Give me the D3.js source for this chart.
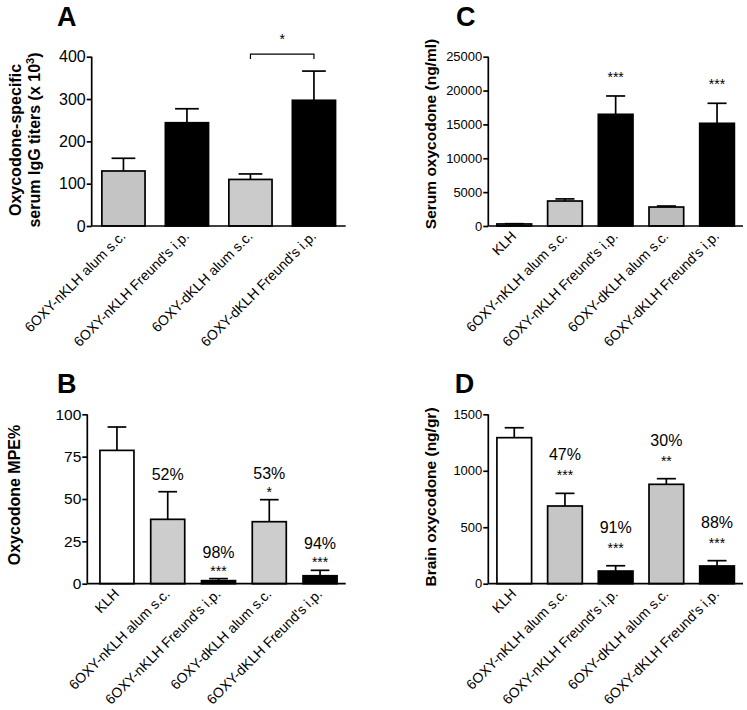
<!DOCTYPE html>
<html>
<head>
<meta charset="utf-8">
<script src="https://cdn.jsdelivr.net/npm/d3@7"></script>
<style>
  html, body { margin: 0; padding: 0; background: #fff; }
  svg { display: block; }
  text { font-family: Arial, "Liberation Sans", sans-serif; fill: #000; }
</style>
</head>
<body>
<svg id="chart" width="747" height="710"></svg>
<script>
// ---------- DATA ----------
const categoriesA = ["6OXY-nKLH alum s.c.", "6OXY-nKLH Freund's i.p.", "6OXY-dKLH alum s.c.", "6OXY-dKLH Freund's i.p."];
const categoriesBCD = ["KLH", "6OXY-nKLH alum s.c.", "6OXY-nKLH Freund's i.p.", "6OXY-dKLH alum s.c.", "6OXY-dKLH Freund's i.p."];

const titersA = [130, 244, 110, 297];
const titersSemA = [30, 33, 13, 69];
const ticksA = [0, 100, 200, 300, 400];

const mpeB = [78.7, 38, 1.8, 36.6, 4.7];
const mpeSemB = [13.8, 16.3, 1.2, 13, 3.2];
const ticksB = [0, 25, 50, 75, 100];
const pctB = ["", "52%", "98%", "53%", "94%"];
const starsB = ["", "", "***", "*", "***"];

const serumC = [300, 3690, 16490, 2800, 15160];
const serumSemC = [40, 310, 2710, 150, 2960];
const ticksC = [0, 5000, 10000, 15000, 20000, 25000];
const starsC = ["", "", "***", "", "***"];

const brainD = [1293, 688, 112, 880, 157];
const brainSemD = [88, 112, 47, 50, 47];
const ticksD = [0, 500, 1000, 1500];
const pctD = ["", "47%", "91%", "30%", "88%"];
const starsD = ["", "***", "***", "**", "***"];

// ---------- STYLES ----------
const fillsA = ["#c4c4c4", "#000000", "#cbcbcb", "#000000"];
const fillsB = ["#ffffff", "#cdcdcd", "#000000", "#cdcdcd", "#000000"];
const fillsC = ["#9a9a9a", "#c8c8c8", "#000000", "#bdbdbd", "#000000"];
const fillsD = ["#ffffff", "#c6c6c6", "#000000", "#c6c6c6", "#000000"];

const svg = d3.select("#chart");
const SW = 1.7;

function panel(o) {
  const g = svg.append("g");
  const y = d3.scaleLinear().domain([0, o.max]).range([o.y0, o.yTop]);
  const x = d3.scaleBand().domain(o.cats).range(o.band)
    .paddingInner(o.pi).paddingOuter(o.po);
  const bw = x.bandwidth();

  // bars
  g.selectAll("rect.bar").data(o.cats).enter().append("rect")
    .attr("x", d => x(d))
    .attr("y", (d, i) => y(o.vals[i]))
    .attr("width", bw)
    .attr("height", (d, i) => o.y0 - y(o.vals[i]))
    .attr("fill", (d, i) => o.fills[i])
    .attr("stroke", "#000").attr("stroke-width", SW);

  // error bars
  const cap = bw * 0.55;
  o.cats.forEach((c, i) => {
    const cx = x(c) + bw / 2;
    const top = y(o.vals[i] + o.sem[i]);
    g.append("line").attr("x1", cx).attr("x2", cx)
      .attr("y1", y(o.vals[i])).attr("y2", top)
      .attr("stroke", "#000").attr("stroke-width", SW);
    g.append("line").attr("x1", cx - cap / 2).attr("x2", cx + cap / 2)
      .attr("y1", top).attr("y2", top)
      .attr("stroke", "#000").attr("stroke-width", SW);
  });

  // y axis
  const ya = g.append("g").attr("transform", `translate(${o.axX},0)`)
    .call(d3.axisLeft(y).tickValues(o.ticks).tickSize(5).tickPadding(1).tickFormat(d3.format("d")));
  ya.select(".domain").remove();
  ya.selectAll(".tick line").attr("stroke", "#000").attr("stroke-width", SW);
  ya.selectAll(".tick text").attr("font-size", o.tickFs)
    .style("font-family", 'Arial, "Liberation Sans", sans-serif').attr("fill", "#000");
  g.append("line").attr("x1", o.axX).attr("x2", o.axX)
    .attr("y1", o.y0).attr("y2", y(o.max))
    .attr("stroke", "#000").attr("stroke-width", SW);
  // x axis line
  g.append("line").attr("x1", o.axX).attr("x2", o.axEnd)
    .attr("y1", o.y0).attr("y2", o.y0)
    .attr("stroke", "#000").attr("stroke-width", SW);

  // x labels
  o.cats.forEach((c, i) => {
    const cx = x(c) + bw / 2 + o.lblDx;
    const cy = o.y0 + o.lblDy;
    g.append("text").attr("transform", `translate(${cx},${cy}) rotate(-45)`)
      .attr("text-anchor", "end").attr("font-size", 14).text(c);
  });

  // annotations
  if (o.stars) o.cats.forEach((c, i) => {
    const cx = x(c) + bw / 2;
    const top = y(o.vals[i] + o.sem[i]);
    if (o.stars[i]) g.append("text").attr("x", cx).attr("y", top - o.starOff + 8)
      .attr("text-anchor", "middle").attr("font-size", 14).text(o.stars[i]);
    if (o.pct && o.pct[i]) {
      const off = o.stars[i] ? o.pctOff : o.pctOffNoStar;
      g.append("text").attr("x", cx).attr("y", top - off + 6)
        .attr("text-anchor", "middle").attr("font-size", 16).text(o.pct[i]);
    }
  });

  // panel letter
  g.append("text").attr("x", o.letter[0]).attr("y", o.letter[1])
    .attr("text-anchor", "middle").attr("font-size", 27).attr("font-weight", "bold").text(o.letter[2]);

  return { g, x, y, bw };
}

// Panel A
const pA = panel({
  cats: categoriesA, vals: titersA, sem: titersSemA, fills: fillsA, ticks: ticksA, max: 400,
  y0: 226, yTop: 56.7, axX: 91.7, axEnd: 345.7, band: [91.7, 345.7], pi: 0.32, po: 0.16,
  tickFs: 16, lblDx: 3, lblDy: 11, letter: [66.7, 26, "A"]
});
{
  const yLab = pA.g.append("text").attr("transform", "translate(21,140) rotate(-90)")
    .attr("text-anchor", "middle").attr("font-size", 16).attr("font-weight", "bold");
  yLab.text("Oxycodone-specific");
  const yLab2 = pA.g.append("text").attr("transform", "translate(40,140) rotate(-90)")
    .attr("text-anchor", "middle").attr("font-size", 16).attr("font-weight", "bold");
  yLab2.append("tspan").text("serum IgG titers (x 10");
  yLab2.append("tspan").attr("dy", -6).attr("font-size", 11).text("3");
  yLab2.append("tspan").attr("dy", 6).text(")");
  // significance bracket between bars 3 and 4
  const c3 = pA.x(categoriesA[2]) + pA.bw / 2, c4 = pA.x(categoriesA[3]) + pA.bw / 2;
  const by = pA.y(d3.max(titersA.map((v, i) => v + titersSemA[i]))) - 17;
  pA.g.append("path").attr("d", `M${c3},${by + 5}V${by}H${c4}V${by + 5}`)
    .attr("fill", "none").attr("stroke", "#000").attr("stroke-width", 1.2);
  pA.g.append("text").attr("x", (c3 + c4) / 2).attr("y", by - 10)
    .attr("text-anchor", "middle").attr("font-size", 14).text("*");
}

// Panel B
const pB = panel({
  cats: categoriesBCD, vals: mpeB, sem: mpeSemB, fills: fillsB, ticks: ticksB, max: 100,
  y0: 583.7, yTop: 414.3, axX: 87.3, axEnd: 345.7, band: [91.3, 345.7], pi: 0.33, po: 0.17,
  tickFs: 15.5, lblDx: 3, lblDy: 11, letter: [66.7, 393, "B"],
  stars: starsB, pct: pctB, starOff: 11, pctOff: 27, pctOffNoStar: 18
});
pB.g.append("text").attr("transform", "translate(20,495) rotate(-90)")
  .attr("text-anchor", "middle").attr("font-size", 16).attr("font-weight", "bold").text("Oxycodone MPE%");

// Panel C
const pC = panel({
  cats: categoriesBCD, vals: serumC, sem: serumSemC, fills: fillsC, ticks: ticksC, max: 25000,
  y0: 226, yTop: 56.7, axX: 488.3, axEnd: 743, band: [488.3, 743], pi: 0.316, po: 0.17,
  tickFs: 13, lblDx: 3, lblDy: 11, letter: [465.7, 26, "C"],
  stars: starsC, starOff: 22
});
pC.g.append("text").attr("transform", "translate(436,134) rotate(-90)")
  .attr("text-anchor", "middle").attr("font-size", 15.5).attr("font-weight", "bold").text("Serum oxycodone (ng/ml)");

// Panel D
const pD = panel({
  cats: categoriesBCD, vals: brainD, sem: brainSemD, fills: fillsD, ticks: ticksD, max: 1500,
  y0: 583.7, yTop: 414.3, axX: 488.3, axEnd: 743, band: [488.3, 743], pi: 0.316, po: 0.17,
  tickFs: 13, lblDx: 3, lblDy: 11, letter: [464.5, 393, "D"],
  stars: starsD, pct: pctD, starOff: 21, pctOff: 39, pctOffNoStar: 30
});
pD.g.append("text").attr("transform", "translate(436,497) rotate(-90)")
  .attr("text-anchor", "middle").attr("font-size", 15.5).attr("font-weight", "bold").text("Brain oxycodone (ng/gr)");
</script>
</body>
</html>
